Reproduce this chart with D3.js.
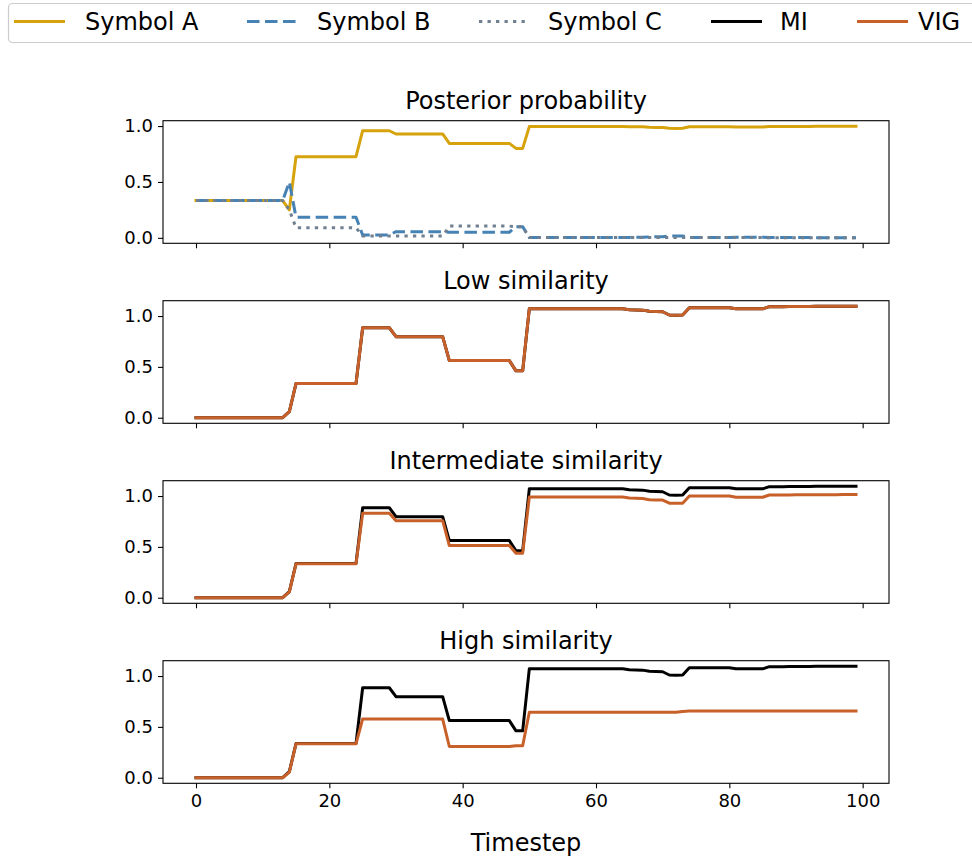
<!DOCTYPE html>
<html>
<head>
<meta charset="utf-8">
<script src="https://cdn.jsdelivr.net/npm/d3@7"></script>
<style>
  html, body { margin: 0; padding: 0; background: #fff; }
  svg text { font-family: "DejaVu Sans", sans-serif; fill: #000; }
</style>
</head>
<body>
<svg id="chart" width="972" height="859"></svg>
<script>
// ---------------- data ----------------
const timesteps = d3.range(0, 100);

const symbolA = [
  0.333,0.333,0.333,0.333,0.333,0.333,0.333,0.333,0.333,0.333,
  0.333,0.333,0.333,0.333,0.25, 0.726,0.726,0.726,0.726,0.726,
  0.726,0.726,0.726,0.726,0.726,0.958,0.958,0.958,0.958,0.958,
  0.929,0.929,0.929,0.929,0.929,0.929,0.929,0.929,0.845,0.845,
  0.845,0.845,0.845,0.845,0.845,0.845,0.845,0.845,0.80, 0.80,
  0.995,0.995,0.995,0.995,0.995,0.995,0.995,0.995,0.995,0.995,
  0.995,0.995,0.995,0.995,0.995,0.994,0.993,0.993,0.989,0.988,
  0.987,0.98, 0.979,0.98, 0.993,0.993,0.993,0.993,0.993,0.993,
  0.993,0.992,0.992,0.992,0.992,0.992,0.997,0.997,0.997,0.997,
  0.997,0.997,0.997,0.998,0.998,0.998,0.998,0.998,0.998,0.998
];
const symbolB = [
  0.333,0.333,0.333,0.333,0.333,0.333,0.333,0.333,0.333,0.333,
  0.333,0.333,0.333,0.333,0.50, 0.185,0.185,0.185,0.185,0.185,
  0.185,0.185,0.185,0.185,0.185,0.025,0.025,0.025,0.025,0.025,
  0.055,0.055,0.055,0.055,0.055,0.055,0.055,0.055,0.05, 0.05,
  0.05, 0.05, 0.05, 0.05, 0.05, 0.05, 0.05, 0.05, 0.10, 0.10,
  0.003,0.003,0.003,0.003,0.003,0.003,0.003,0.003,0.003,0.003,
  0.003,0.003,0.003,0.003,0.003,0.004,0.005,0.005,0.008,0.009,
  0.010,0.016,0.017,0.016,0.004,0.004,0.004,0.004,0.004,0.004,
  0.004,0.005,0.005,0.005,0.005,0.005,0.002,0.002,0.002,0.002,
  0.002,0.002,0.002,0.001,0.001,0.001,0.001,0.001,0.001,0.001
];
const symbolC = [
  0.333,0.333,0.333,0.333,0.333,0.333,0.333,0.333,0.333,0.333,
  0.333,0.333,0.333,0.333,0.25, 0.09, 0.09, 0.09, 0.09, 0.09,
  0.09, 0.09, 0.09, 0.09, 0.09, 0.017,0.017,0.017,0.017,0.017,
  0.016,0.016,0.016,0.016,0.016,0.016,0.016,0.016,0.105,0.105,
  0.105,0.105,0.105,0.105,0.105,0.105,0.105,0.105,0.10, 0.10,
  0.002,0.002,0.002,0.002,0.002,0.002,0.002,0.002,0.002,0.002,
  0.002,0.002,0.002,0.002,0.002,0.002,0.002,0.002,0.003,0.003,
  0.003,0.004,0.004,0.004,0.003,0.003,0.003,0.003,0.003,0.003,
  0.003,0.003,0.003,0.003,0.003,0.003,0.001,0.001,0.001,0.001,
  0.001,0.001,0.001,0.001,0.001,0.001,0.001,0.001,0.001,0.001
];
// mutual information (same in all similarity panels)
const miValues = [
  0,0,0,0,0,0,0,0,0,0,
  0,0,0,0,0.06, 0.336,0.336,0.336,0.336,0.336,
  0.336,0.336,0.336,0.336,0.336,0.885,0.885,0.885,0.885,0.885,
  0.797,0.797,0.797,0.797,0.797,0.797,0.797,0.797,0.562,0.562,
  0.562,0.562,0.562,0.562,0.562,0.562,0.562,0.562,0.461,0.461,
  1.072,1.072,1.072,1.072,1.072,1.072,1.072,1.072,1.072,1.072,
  1.072,1.072,1.072,1.072,1.072,1.062,1.06, 1.058,1.047,1.045,
  1.042,1.01, 1.008,1.01, 1.082,1.082,1.082,1.082,1.082,1.082,
  1.082,1.071,1.071,1.071,1.071,1.071,1.092,1.092,1.092,1.093,
  1.093,1.094,1.094,1.095,1.095,1.095,1.096,1.096,1.096,1.096
];
const vigLow = miValues.slice();
const vigIntermediate = [
  0,0,0,0,0,0,0,0,0,0,
  0,0,0,0,0.058,0.333,0.333,0.333,0.333,0.333,
  0.333,0.333,0.333,0.333,0.333,0.83, 0.83, 0.83, 0.83, 0.83,
  0.758,0.758,0.758,0.758,0.758,0.758,0.758,0.758,0.513,0.513,
  0.513,0.513,0.513,0.513,0.513,0.513,0.513,0.513,0.438,0.438,
  0.99, 0.99, 0.99, 0.99, 0.99, 0.99, 0.99, 0.99, 0.99, 0.99,
  0.99, 0.99, 0.99, 0.99, 0.99, 0.98, 0.978,0.976,0.964,0.962,
  0.96, 0.93, 0.928,0.93, 1.0,  1.0,  1.0,  1.0,  1.0,  1.0,
  1.0,  0.988,0.988,0.988,0.988,0.988,1.01, 1.01, 1.011,1.011,
  1.012,1.012,1.012,1.013,1.013,1.013,1.013,1.014,1.014,1.014
];
const vigHigh = [
  0,0,0,0,0,0,0,0,0,0,
  0,0,0,0,0.055,0.333,0.333,0.333,0.333,0.333,
  0.333,0.333,0.333,0.333,0.333,0.578,0.578,0.578,0.578,0.578,
  0.577,0.577,0.577,0.577,0.577,0.577,0.577,0.577,0.307,0.307,
  0.307,0.307,0.307,0.307,0.307,0.307,0.307,0.307,0.315,0.315,
  0.644,0.644,0.644,0.644,0.644,0.644,0.644,0.644,0.644,0.644,
  0.644,0.644,0.644,0.644,0.644,0.644,0.644,0.644,0.644,0.644,
  0.643,0.643,0.643,0.652,0.655,0.655,0.655,0.655,0.655,0.655,
  0.655,0.655,0.655,0.655,0.655,0.655,0.656,0.656,0.656,0.656,
  0.656,0.656,0.656,0.656,0.656,0.656,0.656,0.656,0.656,0.656
];

const panelTitles = ["Posterior probability", "Low similarity", "Intermediate similarity", "High similarity"];
const xTicks = [0, 20, 40, 60, 80, 100];
const yTicks = [0, 0.5, 1.0];
const legendLabels = ["Symbol A", "Symbol B", "Symbol C", "MI", "VIG"];
const xLabel = "Timestep";

// ---------------- styles ----------------
const colA = "#d6a30c", colB = "#4682b4", colC = "#708090", colMI = "#000000", colVIG = "#c8602a";
const lw = 3;
const dashB = "12.5,5.5";
const dotC = "3.3,5.2";
const legendStyles = [
  {color: colA, dash: null},
  {color: colB, dash: dashB},
  {color: colC, dash: dotC},
  {color: colMI, dash: null},
  {color: colVIG, dash: null}
];

const svg = d3.select("#chart");

// ---------------- layout ----------------
const left = 163, right = 889;
const panelTop0 = 120.7, panelStep = 180, panelH = 122.6;
const bigFont = 24, tickFont = 18;

const x = d3.scaleLinear().domain([-4.95, 103.95]).range([left, right]);

const panels = [
  {title: panelTitles[0], series: [
      {v: symbolA, c: colA, dash: null},
      {v: symbolB, c: colB, dash: dashB},
      {v: symbolC, c: colC, dash: dotC}]},
  {title: panelTitles[1], series: [
      {v: miValues, c: colMI, dash: null},
      {v: vigLow, c: colVIG, dash: null}]},
  {title: panelTitles[2], series: [
      {v: miValues, c: colMI, dash: null},
      {v: vigIntermediate, c: colVIG, dash: null}]},
  {title: panelTitles[3], series: [
      {v: miValues, c: colMI, dash: null},
      {v: vigHigh, c: colVIG, dash: null}]}
];

panels.forEach((p, i) => {
  const top = panelTop0 + i * panelStep;
  const bottom = top + panelH;
  const allVals = p.series.flatMap(s => s.v);
  const mn = d3.min(allVals), mx = d3.max(allVals);
  const pad = (mx - mn) * 0.05;
  const y = d3.scaleLinear().domain([mn - pad, mx + pad]).range([bottom, top]);

  const g = svg.append("g");

  const clipId = "clip" + i;
  svg.append("clipPath").attr("id", clipId).append("rect")
    .attr("x", left).attr("y", top).attr("width", right - left).attr("height", panelH);

  const line = d3.line().x((d, k) => x(timesteps[k])).y(d => y(d));
  const lg = g.append("g").attr("clip-path", `url(#${clipId})`);
  p.series.forEach(s => {
    lg.append("path").datum(s.v)
      .attr("d", line)
      .attr("fill", "none")
      .attr("stroke", s.c)
      .attr("stroke-width", lw)
      .attr("stroke-linejoin", "round")
      .attr("stroke-linecap", s.dash ? "butt" : "square")
      .attr("stroke-dasharray", s.dash);
  });

  const yAxis = d3.axisLeft(y).tickValues(yTicks).tickFormat(d3.format(".1f")).tickSize(5).tickPadding(5);
  const ya = g.append("g").attr("transform", `translate(${left},0)`).call(yAxis);
  const xAxis = d3.axisBottom(x).tickValues(xTicks).tickSize(5).tickPadding(6)
    .tickFormat(i === panels.length - 1 ? d3.format("d") : () => "");
  const xa = g.append("g").attr("transform", `translate(0,${bottom})`).call(xAxis);
  [ya, xa].forEach(a => {
    a.select(".domain").remove();
    a.selectAll(".tick line").attr("stroke", "#000").attr("stroke-width", 1.1);
    a.selectAll(".tick text").attr("font-size", tickFont).attr("font-family", "DejaVu Sans").attr("fill", "#000");
  });

  g.append("rect").attr("x", left).attr("y", top).attr("width", right - left).attr("height", panelH)
    .attr("fill", "none").attr("stroke", "#000").attr("stroke-width", 1.1);

  g.append("text").attr("x", (left + right) / 2).attr("y", top - 12)
    .attr("text-anchor", "middle").attr("font-size", bigFont).text(p.title);
});

svg.append("text").attr("x", (left + right) / 2).attr("y", 851)
  .attr("text-anchor", "middle").attr("font-size", bigFont).text(xLabel);

// ---------------- legend ----------------
const lgd = svg.append("g");
lgd.append("rect").attr("x", 8.5).attr("y", 3.5).attr("width", 990).attr("height", 39).attr("rx", 4)
  .attr("fill", "#fff").attr("stroke", "#cccccc").attr("stroke-width", 1.2);
const handleX = [14, 247, 479, 711, 857];
const textX = [85, 317, 548, 780, 918];
legendLabels.forEach((lab, k) => {
  const hx = handleX[k];
  lgd.append("line").attr("x1", hx).attr("x2", hx + 51).attr("y1", 21.5).attr("y2", 21.5)
    .attr("stroke", legendStyles[k].color).attr("stroke-width", lw)
    .attr("stroke-dasharray", legendStyles[k].dash);
  lgd.append("text").attr("x", textX[k]).attr("y", 30).attr("font-size", bigFont).text(lab);
});
</script>
</body>
</html>
